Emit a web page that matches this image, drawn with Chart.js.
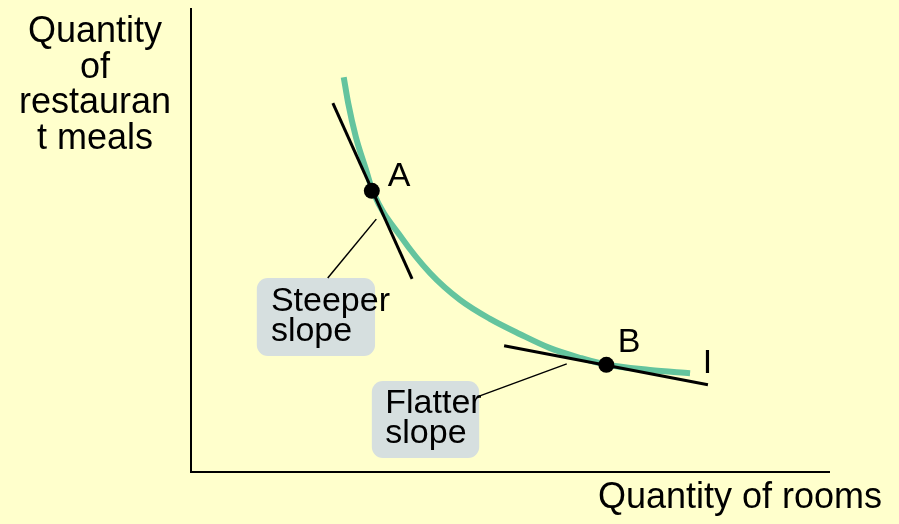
<!DOCTYPE html>
<html>
<head>
<meta charset="utf-8">
<script src="https://cdn.jsdelivr.net/npm/chart.js@4/dist/chart.umd.min.js"></script>
<style>
html,body{margin:0;padding:0;background:#ffffcc;}
#wrap{width:899px;height:524px;position:relative;}
</style>
</head>
<body>
<div id="wrap"><canvas id="c" width="899" height="524"></canvas></div>
<script>
// Indifference curve I (quantity of rooms on x, restaurant meals on y)
const curveX = [2.39, 2.46, 2.58, 2.74, 2.85, 3.30, 3.74, 4.21, 4.68, 5.15, 5.62, 6.09, 6.51, 7.18, 7.81];
const curveY = [8.51, 7.95, 7.22, 6.51, 6.03, 5.04, 4.29, 3.71, 3.30, 2.97, 2.67, 2.46, 2.31, 2.20, 2.13];
// Points A and B
const pointNames = ["A", "B"];
const pointX = [2.83, 6.50];
const pointY = [6.06, 2.31];
// Tangent lines at A and B
const tangentAX = [2.22, 3.46];
const tangentAY = [7.95, 4.16];
const tangentBX = [4.90, 8.09];
const tangentBY = [2.72, 1.88];
// Callout connectors
const connAX = [2.90, 2.14];
const connAY = [5.45, 4.18];
const connBX = [5.88, 4.52];
const connBY = [2.33, 1.64];
// Callout boxes [xMin, xMax, yMin, yMax] and their text
const boxSteeper = [1.03, 2.88, 2.50, 4.18];
const boxFlatter = [2.83, 4.51, 0.30, 1.96];
const steeperLines = ["Steeper", "slope"];
const flatterLines = ["Flatter", "slope"];
const steeperTextPos = [1.25, 3.47];
const flatterTextPos = [3.04, 1.27];
// Point labels
const labelA = {text: "A", x: 3.08, y: 6.16};
const labelB = {text: "B", x: 6.68, y: 2.59};
const labelI = {text: "I", x: 8.01, y: 2.13};
// Axis titles
const yTitle = ["Quantity", "of", "restauran", "t meals"];
const xTitle = "Quantity of rooms";
const axisMax = 10;

const FONT = '"Liberation Sans", Arial, sans-serif';
const toPts = (xs, ys) => xs.map((x, i) => ({x: x, y: ys[i]}));

const annot = {
  id: 'annot',
  beforeDatasetsDraw(chart) {
    const {ctx, scales: {x, y}} = chart;
    ctx.save();
    ctx.fillStyle = '#d6dfdf';
    [boxSteeper, boxFlatter].forEach(b => {
      const l = x.getPixelForValue(b[0]), r = x.getPixelForValue(b[1]);
      const t = y.getPixelForValue(b[3]), bt = y.getPixelForValue(b[2]);
      ctx.beginPath();
      ctx.roundRect(l, t, r - l, bt - t, 11);
      ctx.fill();
    });
    ctx.restore();
  },
  afterDatasetsDraw(chart) {
    const {ctx, chartArea, scales: {x, y}} = chart;
    ctx.save();
    ctx.fillStyle = '#000';
    ctx.textBaseline = 'alphabetic';
    // box text
    ctx.font = '34px ' + FONT;
    ctx.textAlign = 'left';
    [[steeperLines, steeperTextPos], [flatterLines, flatterTextPos]].forEach(([lines, pos]) => {
      const px = x.getPixelForValue(pos[0]);
      const py = y.getPixelForValue(pos[1]);
      lines.forEach((s, i) => ctx.fillText(s, px, py + i * 30));
    });
    // point labels
    [labelA, labelB, labelI].forEach(l => {
      ctx.fillText(l.text, x.getPixelForValue(l.x), y.getPixelForValue(l.y));
    });
    // axis titles
    ctx.font = '36px ' + FONT;
    ctx.textAlign = 'center';
    yTitle.forEach((s, i) => ctx.fillText(s, chartArea.left - 96, chartArea.top + 34 + i * 35.5));
    ctx.textAlign = 'right';
    ctx.fillText(xTitle, chartArea.right + 52, chartArea.bottom + 36);
    ctx.restore();
  }
};

const lineDs = (data, color, width, order) => ({
  data: data, showLine: true, borderColor: color, backgroundColor: color,
  borderWidth: width, pointRadius: 0, fill: false, tension: 0, order: order
});

new Chart(document.getElementById('c'), {
  type: 'scatter',
  data: {
    datasets: [
      {data: toPts(pointX, pointY), showLine: false, pointRadius: 8, pointBackgroundColor: '#000', pointBorderWidth: 0, order: 0},
      lineDs(toPts(tangentAX, tangentAY), '#000', 3, 1),
      lineDs(toPts(tangentBX, tangentBY), '#000', 3, 1),
      lineDs(toPts(connAX, connAY), '#000', 1.5, 2),
      lineDs(toPts(connBX, connBY), '#000', 1.5, 2),
      Object.assign(lineDs(toPts(curveX, curveY), '#64c49e', 6, 3), {cubicInterpolationMode: 'monotone', borderCapStyle: 'butt'}),
      lineDs([{x: 0, y: axisMax}, {x: 0, y: 0}, {x: axisMax, y: 0}], '#000', 2, 4)
    ]
  },
  options: {
    responsive: false,
    animation: false,
    layout: {padding: {left: 191, right: 69, top: 8, bottom: 52}},
    plugins: {legend: {display: false}, tooltip: {enabled: false}},
    scales: {
      x: {type: 'linear', min: 0, max: axisMax, display: false},
      y: {type: 'linear', min: 0, max: axisMax, display: false}
    },
    clip: false
  },
  plugins: [annot]
});
</script>
</body>
</html>
